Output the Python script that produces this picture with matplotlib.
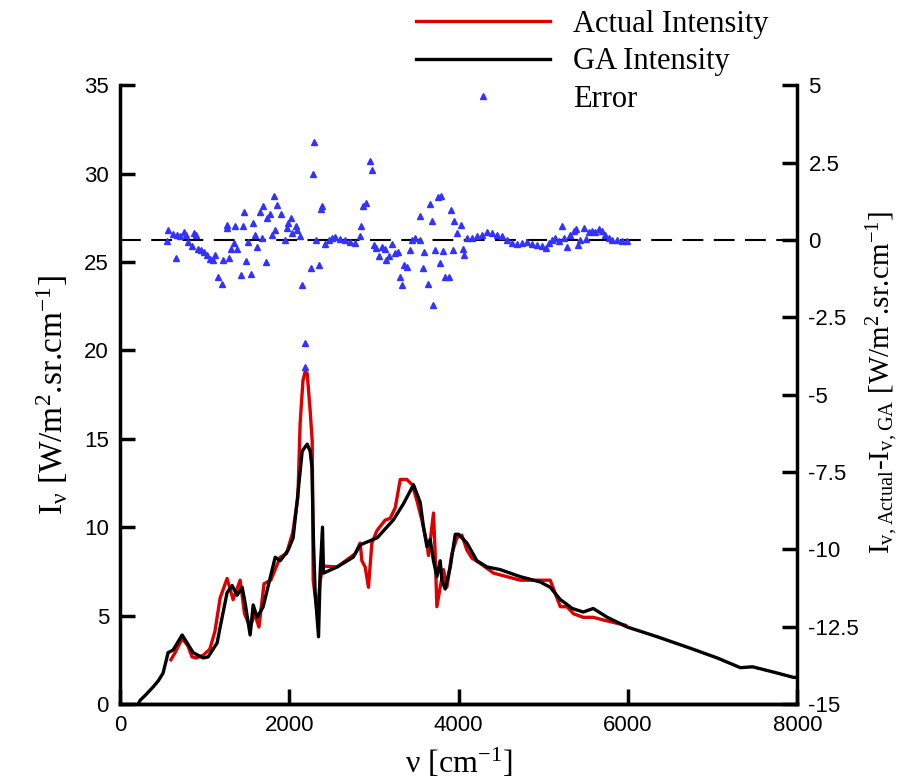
import matplotlib
matplotlib.use("Agg")
import matplotlib.pyplot as plt

plt.rcParams['axes.unicode_minus'] = False
plt.rcParams['mathtext.default'] = 'regular'

# GA intensity (black)
nu_ga = [215, 236, 300, 390, 450, 508, 567, 626, 733, 792, 863, 981, 1040, 1146, 1182, 1264, 1323,
         1382, 1442, 1477, 1536, 1572, 1619, 1690, 1832, 1891, 1985, 2044, 2092, 2151, 2210, 2245,
         2266, 2285, 2304, 2344, 2363, 2391, 2403, 2564, 2753, 2836, 3037, 3226, 3344, 3466, 3545,
         3584, 3624, 3663, 3702, 3742, 3781, 3801, 3840, 3900, 3959, 3998, 4097, 4215, 4333,
         4490, 4727, 4963, 5081, 5200, 5259, 5341, 5471, 5589, 5755, 5991, 6345, 6736, 7054,
         7327, 7470, 7720, 7955, 8000]
I_ga = [0.0, 0.2, 0.5, 0.96, 1.3, 1.75, 2.9, 3.05, 3.9, 3.45, 2.9, 2.6, 2.66, 3.45, 4.35, 6.3, 6.7,
        6.15, 6.6, 5.7, 3.9, 5.6, 4.9, 5.5, 8.3, 8.1, 8.7, 9.4, 11.5, 14.3, 14.7, 14.3,
        13.4, 9.1, 6.3, 3.8, 7.4, 10.0, 7.4, 7.75, 8.3, 9.0, 9.4, 10.4, 11.3, 12.4, 11.4,
        10.0, 8.9, 9.3, 8.1, 7.2, 8.1, 7.0, 6.5, 7.75, 9.6, 9.6, 9.1, 8.1, 7.75,
        7.6, 7.2, 6.9, 6.6, 5.9, 5.7, 5.4, 5.2, 5.4, 4.9, 4.35, 3.8, 3.15, 2.6,
        2.05, 2.1, 1.8, 1.5, 1.5]

# actual intensity (red)
nu_act = [600, 650, 733, 800, 850, 900, 981, 1060, 1120, 1182, 1264, 1335, 1418, 1470, 1536,
          1590, 1640, 1700, 1780, 1891, 1965, 2040, 2100, 2127, 2160, 2186, 2210, 2245, 2269,
          2275, 2281, 2330, 2363, 2400, 2564, 2777, 2836, 2856, 2895, 2934, 2974, 3033, 3131,
          3190, 3250, 3309, 3387, 3451, 3506, 3565, 3624, 3643, 3702, 3722, 3742, 3781, 3820,
          3860, 3919, 3978, 4037, 4097, 4156, 4254, 4412, 4727, 4963, 5081, 5200, 5278, 5357,
          5471, 5589, 5707, 5970]
I_act = [2.5, 2.9, 3.7, 3.3, 2.66, 2.6, 2.75, 3.1, 4.1, 6.0, 7.1, 5.9, 7.0, 5.1, 4.35,
         5.1, 4.35, 6.8, 7.0, 8.3, 8.5, 9.7, 11.7, 15.9, 18.3, 18.8, 18.7, 16.6, 14.9,
         11.4, 7.0, 5.1, 7.0, 7.8, 7.75, 8.5, 9.1, 8.1, 7.75, 6.6, 9.1, 9.8, 10.4,
         10.5, 11.1, 12.7, 12.7, 12.4, 11.5, 10.4, 9.1, 8.4, 10.8, 8.5, 5.5, 6.6, 7.6,
         6.6, 8.5, 9.4, 9.55, 8.7, 8.25, 7.95, 7.4, 7.0, 7.0, 7.0, 5.5, 5.5, 5.1,
         4.9, 4.9, 4.75, 4.45]

# error (blue triangles, right axis)
nu_err = [559, 571, 630, 658, 670, 709, 760, 780, 807, 847, 874, 894, 925, 957, 989, 1024, 1063,
          1103, 1123, 1154, 1201, 1221, 1260, 1268, 1288, 1312, 1347, 1359, 1379, 1430, 1446,
          1469, 1485, 1509, 1548, 1568, 1595, 1615, 1654, 1674, 1693, 1722, 1741, 1772, 1792,
          1823, 1831, 1851, 1902, 1942, 1970, 1989, 2020, 2036, 2076, 2088, 2127, 2147, 2186,
          2186, 2253, 2277, 2293, 2316, 2355, 2379, 2383, 2422, 2462, 2501, 2541, 2600, 2659,
          2718, 2777, 2828, 2848, 2875, 2907, 2954, 2974, 2994, 3025, 3064, 3092, 3131, 3143,
          3182, 3210, 3250, 3277, 3309, 3329, 3356, 3387, 3427, 3447, 3486, 3537, 3545, 3577,
          3592, 3636, 3655, 3683, 3702, 3722, 3761, 3773, 3790, 3820, 3840, 3880, 3908, 3931,
          3947, 3978, 4026, 4049, 4065, 4097, 4156, 4215, 4274, 4333, 4392, 4451, 4510, 4569,
          4628, 4687, 4747, 4806, 4865, 4924, 4983, 5034, 5061, 5101, 5140, 5180, 5219, 5247,
          5278, 5318, 5357, 5388, 5404, 5436, 5475, 5507, 5534, 5574, 5613, 5652, 5692, 5731,
          5770, 5810, 5869, 5928, 5987]
err = [-0.04, 0.33, 0.2, -0.58, 0.17, 0.12, 0.26, 0.17, -0.07, -0.18, 0.23, 0.15, -0.29, -0.33,
       -0.38, -0.47, -0.61, -0.66, -0.47, -1.2, -1.41, -0.64, 0.39, 0.49, -0.58, -0.29, -0.1,
       0.44, -0.29, -1.14, 0.44, 0.9, -0.69, -0.07, -1.09, 0.55, 0.17, -0.23, 0.9, 0.06, 1.09,
       -0.72, 0.71, 0.85, 0.17, 1.41, 0.33, 1.12, 0.85, -0.01, 0.39, 0.55, 0.71, 0.23, 0.46,
       0.31, 0.12, -1.44, -3.33, -4.1, -0.9, 2.14, 3.16, 0.01, -0.8, 1.0, 1.09, -0.12, -0.01,
       0.06, 0.09, 0.03, -0.01, -0.07, -0.1, 0.12, 0.44, 1.09, 1.2, 2.54, 2.25, -0.15, -0.26,
       -0.51, -0.23, -0.29, -0.66, -0.51, -0.12, -0.42, -0.4, -1.2, -1.47, -0.8, -0.87, -0.33,
       0.01, 0.06, 0.79, 0.01, -0.9, -0.4, -1.41, 1.17, 0.6, -2.09, -0.33, 1.39, -0.74, 1.43,
       -0.37, -1.2, -1.2, 0.96, -0.33, 0.6, 0.23, 0.49, -0.29, -0.47, 0.06, 0.06, 0.12, 0.17,
       0.25, 0.23, 0.17, 0.12, -0.01, -0.1, -0.12, -0.1, -0.07, -0.12, -0.15, -0.18, -0.26,
       -0.1, 0.01, 0.06, -0.04, 0.46, 0.06, -0.23, 0.17, 0.28, 0.36, -0.15, 0.01, 0.39, 0.03,
       0.25, 0.28, 0.25, 0.36, 0.28, 0.17, 0.06, 0.01, -0.01, -0.04, -0.04]

left_ticks = [0, 5, 10, 15, 20, 25, 30, 35]
right_ticks = [-15, -12.5, -10, -7.5, -5, -2.5, 0, 2.5, 5]
right_labels = ['-15', '-12.5', '-10', '-7.5', '-5', '-2.5', '0', '2.5', '5']
x_ticks = [0, 2000, 4000, 6000, 8000]

serif = 'Liberation Serif'
sans = 'Liberation Sans'

fig = plt.figure(figsize=(9.03, 7.83), dpi=100)
ax = fig.add_axes([0.133, 0.101, 0.750, 0.790])
ax2 = ax.twinx()

l1, = ax.plot(nu_act, I_act, color='#dd0000', lw=2.4, label='Actual Intensity', zorder=2)
l2, = ax.plot(nu_ga, I_ga, color='black', lw=2.4, label='GA Intensity', zorder=3)
ax2.axhline(0, color='black', lw=1.5, dashes=(10, 5), zorder=1)
l3, = ax2.plot(nu_err, err, ls='none', marker='^', ms=4, color='#3333ff', mec='#3333ff',
               label='Error')

ax.set_xlim(0, 8000)
ax.set_ylim(0, 35)
ax2.set_ylim(-15, 5)
ax.set_xticks(x_ticks)
ax.set_yticks(left_ticks)
ax2.set_yticks(right_ticks)
ax2.set_yticklabels(right_labels)

for a in (ax, ax2):
    a.spines['top'].set_visible(False)
    for s in a.spines.values():
        s.set_linewidth(2.5)
    a.tick_params(direction='in', length=11, width=2.5, labelsize=16, pad=8)
    for lab in a.get_xticklabels() + a.get_yticklabels():
        lab.set_fontfamily(sans)
ax.spines['right'].set_visible(False)
ax2.spines['left'].set_visible(False)
ax.tick_params(axis='y', right=False)

ax.set_xlabel('ν [cm$^{-1}$]', fontfamily=serif, fontsize=23, labelpad=8)
ax.set_ylabel('I$_{ν}$ [W/m$^{2}$.sr.cm$^{-1}$]', fontfamily=serif, fontsize=24, labelpad=10)
ax2.set_ylabel('I$_{v,Actual}$-I$_{v,GA}$ [W/m$^{2}$.sr.cm$^{-1}$]', fontfamily=serif,
               fontsize=21, rotation=90, labelpad=4)
ax2.yaxis.set_label_coords(1.10, 0.52)

fig.legend(handles=[l1, l2, l3], loc='upper left', bbox_to_anchor=(0.44, 1.011),
           frameon=False, prop={'family': serif, 'size': 22}, handlelength=4.4,
           handletextpad=0.75, labelspacing=0.28, borderaxespad=0.2, markerscale=1.2)

fig.savefig('out.png', dpi=100)
